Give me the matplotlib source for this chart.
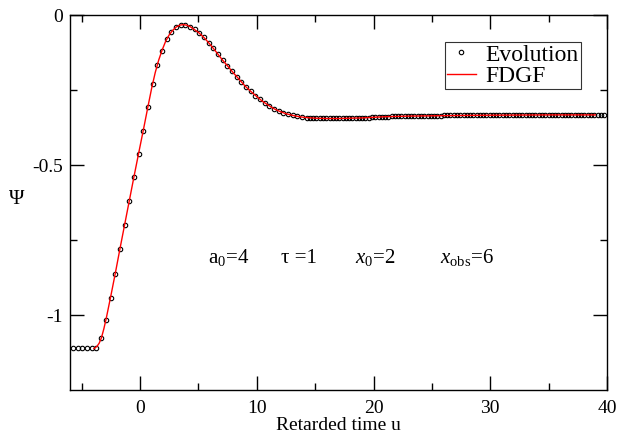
import numpy as np
import matplotlib
matplotlib.use("Agg")
import matplotlib.pyplot as plt

plt.rcParams['font.family'] = ['Liberation Serif', 'DejaVu Serif']
plt.rcParams['mathtext.fontset'] = 'custom'
plt.rcParams['mathtext.rm'] = 'Liberation Serif'
plt.rcParams['mathtext.it'] = 'Liberation Serif:italic'
plt.rcParams['axes.unicode_minus'] = False

# Evolution samples: two uniform time grids
evo_u_start1, evo_du1, evo_n1 = -5.73, 0.40, 51
evo_u_start2, evo_du2, evo_n2 = 14.55, 0.28, 91
evo_psi1 = [
    -1.111, -1.111, -1.111, -1.111, -1.111, -1.109, -1.077, -1.017, -0.942, -0.863,
    -0.781, -0.701, -0.621, -0.541, -0.463, -0.386, -0.307, -0.231, -0.167, -0.119,
    -0.081, -0.058, -0.041, -0.034, -0.034, -0.039, -0.048, -0.061, -0.074, -0.092,
    -0.111, -0.130, -0.150, -0.169, -0.188, -0.206, -0.223, -0.240, -0.254, -0.269,
    -0.281, -0.293, -0.303, -0.312, -0.320, -0.326, -0.331, -0.334, -0.338, -0.340,
    -0.342,
]
evo_psi2 = [
    -0.343, -0.343, -0.344, -0.344, -0.344, -0.345, -0.345, -0.345, -0.345, -0.345,
    -0.345, -0.345, -0.344, -0.344, -0.344, -0.343, -0.343, -0.342, -0.342, -0.341,
    -0.341, -0.340, -0.340, -0.339, -0.339, -0.338, -0.338, -0.338, -0.337, -0.337,
    -0.337, -0.336, -0.336, -0.336, -0.336, -0.336, -0.336, -0.336, -0.336, -0.336,
    -0.336, -0.335, -0.335, -0.335, -0.335, -0.335, -0.335, -0.335, -0.335, -0.335,
    -0.335, -0.335, -0.335, -0.335, -0.335, -0.335, -0.334, -0.334, -0.334, -0.334,
    -0.334, -0.334, -0.334, -0.334, -0.334, -0.334, -0.334, -0.334, -0.334, -0.334,
    -0.334, -0.333, -0.333, -0.333, -0.333, -0.333, -0.333, -0.333, -0.333, -0.333,
    -0.333, -0.333, -0.333, -0.333, -0.333, -0.333, -0.333, -0.333, -0.333, -0.333,
    -0.333,
]

# FDGF curve
fdgf_u = [-3.95, -3.7, -3.5, -3.3, -3.1, -2.9, -2.5, -2.1, -1.7, -1.3, -0.9, -0.5,
          -0.1, 0.3, 0.7, 1.0, 1.3, 1.6, 1.9, 2.2, 2.5, 2.8, 3.1, 3.4, 3.7, 4.0,
          4.3, 4.6, 5.0, 5.5, 6.0, 6.5, 7.0, 7.5, 8.0, 8.5, 9.0, 9.5, 10.0, 10.5,
          11.0, 11.5, 12.0, 12.5, 13.0, 13.5, 14.0, 15.0, 16.0, 17.0, 18.0, 19.0,
          20.0, 21.0, 22.0, 23.0, 25.0, 27.0, 30.0, 35.0, 39.0]
fdgf_psi = [-1.112, -1.105, -1.094, -1.075, -1.046, -1.012, -0.936, -0.857, -0.775,
            -0.695, -0.615, -0.535, -0.457, -0.380, -0.301, -0.243, -0.192, -0.150,
            -0.116, -0.087, -0.066, -0.051, -0.040, -0.034, -0.032, -0.034, -0.039,
            -0.047, -0.058, -0.076, -0.098, -0.122, -0.147, -0.170, -0.193, -0.215,
            -0.237, -0.255, -0.272, -0.288, -0.301, -0.313, -0.322, -0.329, -0.334,
            -0.338, -0.341, -0.344, -0.345, -0.345, -0.344, -0.343, -0.341, -0.339,
            -0.338, -0.337, -0.336, -0.335, -0.334, -0.333, -0.333]

x_ticks = [0, 10, 20, 30, 40]
x_tick_labels = ["0", "10", "20", "30", "40"]
y_ticks = [0, -0.5, -1]
y_tick_labels = ["0", "-0.5", "-1"]

evo_u = np.concatenate([evo_u_start1 + evo_du1 * np.arange(evo_n1),
                        evo_u_start2 + evo_du2 * np.arange(evo_n2)])
evo_psi = np.array(evo_psi1 + evo_psi2)

fig = plt.figure(figsize=(6.2, 4.36), dpi=100)
ax = fig.add_axes([70/620, 1-390/436, 537/620, 375/436])

ax.plot(evo_u, evo_psi, linestyle='none', marker='o', markersize=3.2,
        markerfacecolor='none', markeredgecolor='black', markeredgewidth=0.8,
        label='Evolution', zorder=2, clip_on=False)
ax.plot(fdgf_u, fdgf_psi, color='red', lw=1.0, label='FDGF', zorder=3)

ax.set_xlim(-6, 40)
ax.set_ylim(-1.25, 0)
ax.set_xticks(x_ticks)
ax.set_xticklabels(x_tick_labels)
ax.set_yticks(y_ticks)
ax.set_yticklabels(y_tick_labels)
ax.set_xticks(np.arange(-5, 40, 5), minor=True)
ax.set_yticks([-0.25, -0.75], minor=True)
ax.tick_params(which='both', direction='in', top=True, right=True, width=1.0,
               labelsize=14)
ax.tick_params(which='major', length=10)
ax.tick_params(which='minor', length=5)
ax.tick_params(axis='x', pad=7)
ax.tick_params(axis='y', pad=5)
for s in ax.spines.values():
    s.set_linewidth(1.0)

ax.set_xlabel('Retarded time u', fontsize=14, labelpad=0)
ax.set_ylabel('Ψ', fontsize=15, rotation=0, va='center', ha='center')
ax.yaxis.set_label_coords(-0.099, 0.507)

leg = ax.legend(loc='upper right', fontsize=17, frameon=True, fancybox=False,
                edgecolor='black', handlelength=1.2, handletextpad=0.42,
                labelspacing=0.0, borderpad=0.1, borderaxespad=0,
                markerscale=1.0)
leg.get_frame().set_linewidth(0.8)
leg.set_bbox_to_anchor((581/620, 1-41.7/436), transform=fig.transFigure)

ax.text(5.8, -0.827, r'a$_0$=4', fontsize=15, va='baseline')
ax.text(12.1, -0.827, r'τ =1', fontsize=15, va='baseline')
ax.text(18.4, -0.827, r'$x_0$=2', fontsize=15, va='baseline')
ax.text(25.7, -0.827, r'$x_{\mathrm{obs}}$=6', fontsize=15, va='baseline')

fig.savefig('out.png', dpi=100)
